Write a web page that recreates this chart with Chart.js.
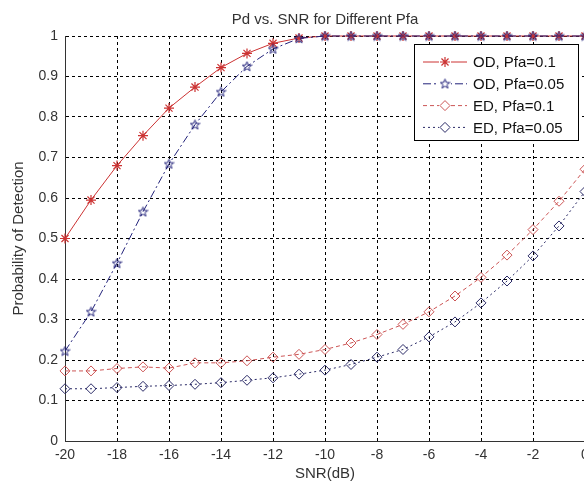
<!DOCTYPE html>
<html>
<head>
<meta charset="utf-8">
<script src="https://cdn.jsdelivr.net/npm/chart.js@4/dist/chart.umd.min.js"></script>
<style>
  html, body { margin: 0; padding: 0; background: #fff; }
  #wrap { width: 584px; height: 485px; overflow: hidden; position: relative; }
  canvas { display: block; }
</style>
</head>
<body>
<div id="wrap"><canvas id="pdChart" width="600" height="485"></canvas></div>
<script>
// data
const snr = [-20, -19, -18, -17, -16, -15, -14, -13, -12, -11, -10, -9, -8, -7, -6, -5, -4, -3, -2, -1, 0];
const odPfa01  = [0.5, 0.595, 0.68, 0.754, 0.822, 0.874, 0.922, 0.957, 0.982, 0.995, 1, 1, 1, 1, 1, 1, 1, 1, 1, 1, 1];
const odPfa005 = [0.222, 0.319, 0.439, 0.566, 0.684, 0.781, 0.862, 0.925, 0.968, 0.994, 1, 1, 1, 1, 1, 1, 1, 1, 1, 1, 1];
const edPfa01  = [0.173, 0.173, 0.179, 0.183, 0.18, 0.193, 0.193, 0.198, 0.207, 0.214, 0.226, 0.242, 0.263, 0.288, 0.319, 0.358, 0.404, 0.459, 0.522, 0.592, 0.671];
const edPfa005 = [0.129, 0.129, 0.132, 0.135, 0.137, 0.14, 0.144, 0.15, 0.156, 0.165, 0.175, 0.189, 0.207, 0.226, 0.257, 0.294, 0.341, 0.395, 0.457, 0.531, 0.616];
const xTicks = [-20, -18, -16, -14, -12, -10, -8, -6, -4, -2, 0];
const seriesNames = ['OD, Pfa=0.1', 'OD, Pfa=0.05', 'ED, Pfa=0.1', 'ED, Pfa=0.05'];

const FONT = '"Liberation Sans", Arial, Helvetica, sans-serif';
const TXT = '#333';

// pentagram marker (matlab 'p')
function makePentagram(color) {
  const c = document.createElement('canvas');
  c.width = 11; c.height = 11;
  const g = c.getContext('2d');
  g.strokeStyle = color;
  g.lineWidth = 1;
  g.beginPath();
  for (let i = 0; i < 10; i++) {
    const r = i % 2 === 0 ? 5 : 2.1;
    const a = -Math.PI / 2 + i * Math.PI / 5;
    const px = 5.5 + r * Math.cos(a), py = 5.8 + r * Math.sin(a);
    if (i === 0) g.moveTo(px, py); else g.lineTo(px, py);
  }
  g.closePath();
  g.stroke();
  return c;
}

const red = '#cc3333';
const navy = '#22227a';
const edRed = '#cc5555';
const edNavy = '#2a2a66';
const pentagram = makePentagram(navy);

const pts = arr => snr.map((x, i) => ({x: x, y: arr[i]}));

const datasets = [
  { label: seriesNames[0], data: pts(odPfa01), borderColor: red, backgroundColor: red,
    borderWidth: 1, pointStyle: 'star', pointRadius: 5, pointBorderWidth: 1.2, order: 4 },
  { label: seriesNames[1], data: pts(odPfa005), borderColor: navy, backgroundColor: 'rgba(0,0,0,0)',
    borderWidth: 1, borderDash: [8, 3, 2, 3], pointStyle: pentagram, pointRadius: 5, order: 3 },
  { label: seriesNames[2], data: pts(edPfa01), borderColor: edRed, backgroundColor: 'rgba(0,0,0,0)',
    borderWidth: 1, borderDash: [4, 3], pointStyle: 'rectRot', pointRadius: 5, pointBorderWidth: 1, order: 2 },
  { label: seriesNames[3], data: pts(edPfa005), borderColor: edNavy, backgroundColor: 'rgba(0,0,0,0)',
    borderWidth: 1, borderDash: [2, 3], pointStyle: 'rectRot', pointRadius: 5, pointBorderWidth: 1, order: 1 }
];
datasets.forEach(d => { d.tension = 0; d.fill = false; d.clip = false; });

// title, axis labels and matlab-like legend
const decor = {
  id: 'decor',
  afterDraw(chart) {
    const ctx = chart.ctx;
    const area = chart.chartArea;
    ctx.save();
    ctx.fillStyle = TXT;
    ctx.font = '15px ' + FONT;
    ctx.textAlign = 'center';
    ctx.textBaseline = 'middle';
    ctx.fillText('Pd vs. SNR for Different Pfa', (area.left + area.right) / 2, 20);
    ctx.fillText('SNR(dB)', (area.left + area.right) / 2, 474);
    ctx.save();
    ctx.translate(19, (area.top + area.bottom) / 2);
    ctx.rotate(-Math.PI / 2);
    ctx.fillText('Probability of Detection', 0, 0);
    ctx.restore();

    // legend box
    const bx = 414, by = 44, bw = 164, bh = 96;
    ctx.fillStyle = '#fff';
    ctx.fillRect(bx, by, bw, bh);
    ctx.strokeStyle = '#000';
    ctx.lineWidth = 1;
    ctx.strokeRect(bx + 0.5, by + 0.5, bw, bh);

    chart.data.datasets.forEach((ds, i) => {
      const y = 62 + i * 21.8;
      ctx.save();
      ctx.strokeStyle = ds.borderColor;
      ctx.lineWidth = 1;
      ctx.setLineDash(ds.borderDash || []);
      ctx.beginPath();
      ctx.moveTo(423, y);
      ctx.lineTo(467, y);
      ctx.stroke();
      ctx.setLineDash([]);
      ctx.fillStyle = '#fff';
      ctx.fillRect(439, y - 6, 12, 12);
      ctx.strokeStyle = ds.borderColor;
      ctx.fillStyle = ds.backgroundColor;
      ctx.lineWidth = ds.pointBorderWidth || 1;
      Chart.helpers.drawPoint(ctx, {pointStyle: ds.pointStyle, radius: ds.pointRadius, rotation: 0, borderWidth: ds.pointBorderWidth || 1}, 445, y);
      ctx.restore();
      ctx.fillStyle = '#111';
      ctx.font = '15px ' + FONT;
      ctx.textAlign = 'left';
      ctx.fillText(ds.label, 473, y + 1);
    });
    ctx.restore();
  }
};

const ctx = document.getElementById('pdChart').getContext('2d');
new Chart(ctx, {
  type: 'line',
  data: { datasets: datasets },
  options: {
    responsive: false,
    animation: false,
    events: [],
    layout: { padding: { left: 0, top: 36, right: 15, bottom: 0 } },
    plugins: { legend: { display: false }, title: { display: false }, tooltip: { enabled: false } },
    scales: {
      x: {
        type: 'linear', min: -20, max: 0,
        afterFit: s => { s.height = 44; },
        afterBuildTicks: s => { s.ticks = xTicks.map(v => ({value: v})); },
        grid: { color: '#000', lineWidth: 1, drawTicks: false },
        border: { color: '#333', width: 1, dash: [3, 3] },
        ticks: { color: TXT, font: { size: 14, family: FONT }, padding: 6, maxRotation: 0 }
      },
      y: {
        min: 0, max: 1,
        afterFit: s => { s.width = 65; },
        grid: { color: '#000', lineWidth: 1, drawTicks: false },
        border: { color: '#333', width: 1, dash: [3, 3] },
        ticks: { stepSize: 0.1, color: TXT, font: { size: 14, family: FONT }, padding: 7,
                 callback: v => String(Number(v.toFixed(1))) }
      }
    }
  },
  plugins: [decor]
});
</script>
</body>
</html>
